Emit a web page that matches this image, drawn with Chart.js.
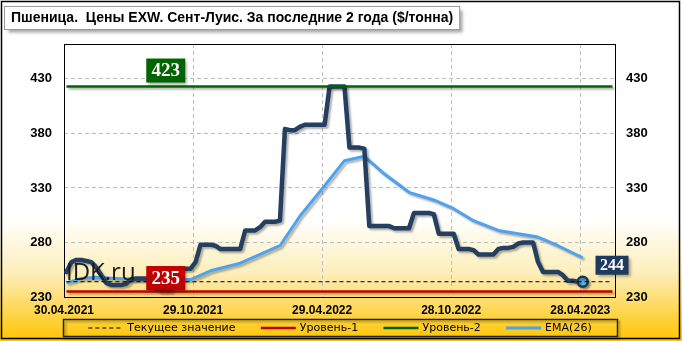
<!DOCTYPE html>
<html lang="ru">
<head>
    <meta charset="UTF-8">
    <title>Пшеница. Цены EXW. Сент-Луис</title>
    <script src="https://cdn.jsdelivr.net/npm/chart.js"></script>
    <style>
        html, body { margin: 0; padding: 0; background: #fff; }
        #wrap { width: 682px; height: 341px; position: relative; }
    </style>
</head>
<body>
<div id="wrap"><canvas id="chart" width="682" height="341"></canvas></div>
<script>
// --- данные (недельные значения, $/тонна) ---
const titleText = 'Пшеница.  Цены EXW. Сент-Луис. За последние 2 года ($/тонна)';
const xTickPos = [-0.5, 25.5, 51.5, 77.5, 103.5];
const xTickLabels = ['30.04.2021', '29.10.2021', '29.04.2022', '28.10.2022', '28.04.2023'];
const yTicks = [230, 280, 330, 380, 430];

const price = [
    253, 262, 264, 264, 263, 262, 257, 250, 243, 241,
    241, 241, 242, 246, 247, 247, 247, 245, 238, 236,
    236, 236, 248, 256, 256, 256, 262, 278, 278, 278,
    277, 274, 274, 274, 274, 274, 291, 291, 291, 294,
    299, 299, 299, 300, 384, 383, 383, 386, 388, 388,
    388, 388, 388, 423, 423, 423, 423, 367, 367, 367,
    366, 295, 295, 295, 295, 295, 293, 293, 293, 293,
    307, 307, 307, 307, 306, 288, 288, 288, 288, 274,
    274, 274, 273, 269, 269, 269, 269, 274, 275, 275,
    276, 279, 280, 280, 280, 262, 253, 253, 253, 253,
    250, 245, 245, 244, 244
];

const emaWeek = [0, 3, 6, 10, 16, 25, 29, 35, 43, 47, 52, 56, 60, 64, 69, 74, 78, 82, 87, 91, 95, 99, 104];
const emaVal  = [243, 247, 248, 247, 246, 246, 254, 261, 277, 304, 332, 355, 359, 343, 326, 319, 311, 300, 291, 288, 285, 277, 266];

const level1 = 235;
const level2 = 423;
const current = price[price.length - 1];

const legendNames = ['Текущее значение', 'Уровень-1', 'Уровень-2', 'EMA(26)'];

const X_MIN = -0.5, X_MAX = 110.5, Y_MIN = 230, Y_MAX = 462;

const hLine = v => [{ x: 0, y: v }, { x: 110, y: v }];

// фон, рамка и заголовок
const backdrop = {
    id: 'backdrop',
    beforeDraw(chart) {
        const ctx = chart.ctx, w = chart.width, h = chart.height;
        ctx.save();
        const g = ctx.createLinearGradient(0, 0, 0, h);
        g.addColorStop(0, '#ffffff');
        g.addColorStop(0.64, '#ffffff');
        g.addColorStop(0.8, '#fdeebb');
        g.addColorStop(1, '#ffc400');
        ctx.fillStyle = g;
        ctx.fillRect(0, 0, w, h);
        ctx.strokeStyle = '#000';
        ctx.lineWidth = 1.5;
        ctx.strokeRect(1.5, 1.5, w - 4, h - 4);

        // заголовок в рамке с тенью
        ctx.font = 'bold 14px "Liberation Sans", Arial, sans-serif';
        const tw = ctx.measureText(titleText).width;
        ctx.shadowColor = 'rgba(0,0,0,0.35)';
        ctx.shadowOffsetX = 3; ctx.shadowOffsetY = 3; ctx.shadowBlur = 3;
        ctx.fillStyle = '#fff';
        ctx.fillRect(4.5, 6.5, tw + 13, 23);
        ctx.shadowColor = 'transparent';
        ctx.strokeStyle = '#9a9a9a';
        ctx.lineWidth = 1;
        ctx.strokeRect(4.5, 6.5, tw + 13, 23);
        ctx.fillStyle = '#000';
        ctx.textBaseline = 'middle';
        ctx.fillText(titleText, 11, 18.5);
        ctx.restore();
    },
    beforeDatasetsDraw(chart) {
        const { ctx, chartArea: a } = chart;
        ctx.save();
        ctx.strokeStyle = '#000';
        ctx.lineWidth = 1;
        ctx.strokeRect(a.left + 0.5, a.top + 0.5, a.right - a.left, a.bottom - a.top);
        ctx.restore();
    }
};

// тени под линиями
const lineShadow = {
    id: 'lineShadow',
    beforeDatasetDraw(chart, args) {
        const ctx = chart.ctx;
        ctx.save();
        if (args.index >= 1) {
            ctx.shadowColor = 'rgba(0,0,0,0.3)';
            ctx.shadowOffsetX = 2; ctx.shadowOffsetY = 2; ctx.shadowBlur = 2;
        }
    },
    afterDatasetDraw(chart) {
        chart.ctx.restore();
    }
};

function tagBox(ctx, text, cx, cy, w, h, fill, font) {
    ctx.save();
    ctx.shadowColor = 'rgba(0,0,0,0.35)';
    ctx.shadowOffsetX = 2; ctx.shadowOffsetY = 2; ctx.shadowBlur = 3;
    ctx.fillStyle = fill;
    ctx.fillRect(cx - w / 2, cy - h / 2, w, h);
    ctx.restore();
    ctx.save();
    ctx.fillStyle = '#fff';
    ctx.font = font;
    ctx.textAlign = 'center';
    ctx.textBaseline = 'middle';
    ctx.fillText(text, cx, cy + 1);
    ctx.restore();
}

// подписи уровней, водяной знак, легенда
const overlay = {
    id: 'overlay',
    afterDatasetsDraw(chart) {
        const { ctx, chartArea: a } = chart;
        const xs = chart.scales.x, ys = chart.scales.y;

        ctx.save();
        ctx.font = '24px "Open Sans", sans-serif';
        ctx.fillStyle = '#1a1a1a';
        ctx.textBaseline = 'alphabetic';
        ctx.fillText('IDK.ru', a.left + 2, a.bottom - 17);
        ctx.restore();

        const lx = xs.getPixelForValue(20);
        const serif = 'bold 19px "Liberation Serif", "Times New Roman", serif';
        tagBox(ctx, String(level2), lx, ys.getPixelForValue(level2) - 16, 39, 24, '#006400', serif);
        tagBox(ctx, String(level1), lx, ys.getPixelForValue(level1) - 13.5, 39, 24, '#c00000', serif);
        tagBox(ctx, String(current), a.right - 3, ys.getPixelForValue(current) - 16.5, 33, 19, '#1f3a5f',
            'bold 16px "Liberation Serif", "Times New Roman", serif');
    },
    afterDraw(chart) {
        const { ctx, chartArea: a } = chart;
        const ds = chart.data.datasets;
        const items = [ds[0], ds[1], ds[2], ds[4]];
        const top = 319, h = 17, left = a.left - 1, right = a.right + 2;
        ctx.save();
        ctx.font = '11px "DejaVu Sans", Verdana, sans-serif';
        const sample = 35, gapText = 4;
        const widths = items.map(d => sample + gapText + ctx.measureText(d.label).width);
        const total = widths.reduce((s, v) => s + v, 0);
        const gap = (right - left - total) / (items.length + 1);

        ctx.strokeStyle = '#222';
        ctx.lineWidth = 1.5;
        ctx.shadowColor = 'rgba(0,0,0,0.3)';
        ctx.shadowOffsetX = 2; ctx.shadowOffsetY = 2; ctx.shadowBlur = 2;
        ctx.strokeRect(left + 0.5, top + 0.5, right - left, h);
        ctx.shadowColor = 'transparent';

        let x = left + gap;
        const cy = top + h / 2 + 0.5;
        items.forEach((d, i) => {
            ctx.save();
            ctx.strokeStyle = d.borderColor;
            ctx.lineWidth = Math.min(d.borderWidth, 3);
            ctx.setLineDash(d.borderDash || []);
            ctx.beginPath();
            ctx.moveTo(x, cy);
            ctx.lineTo(x + sample, cy);
            ctx.stroke();
            ctx.restore();
            ctx.fillStyle = '#000';
            ctx.textBaseline = 'middle';
            ctx.fillText(d.label, x + sample + gapText, cy + 0.5);
            x += widths[i] + gap;
        });
        ctx.restore();
    }
};

const ctx = document.getElementById('chart').getContext('2d');
new Chart(ctx, {
    type: 'line',
    data: {
        datasets: [
            {
                label: legendNames[0],
                data: hLine(current),
                borderColor: '#000',
                borderWidth: 1,
                borderDash: [4, 3],
                pointRadius: 0
            },
            {
                label: legendNames[1],
                data: hLine(level1),
                borderColor: '#c00000',
                borderWidth: 2.5,
                pointRadius: 0
            },
            {
                label: legendNames[2],
                data: hLine(level2),
                borderColor: '#006400',
                borderWidth: 2.5,
                pointRadius: 0
            },
            {
                label: 'Цена',
                data: price.map((v, i) => ({ x: i, y: v })),
                borderColor: '#243f60',
                borderWidth: 4.5,
                borderJoinStyle: 'round',
                borderCapStyle: 'round',
                pointRadius: c => (c.dataIndex === price.length - 1 ? 5 : 0),
                pointBackgroundColor: '#5ab4d6',
                pointBorderColor: '#17365d',
                pointBorderWidth: 2.5
            },
            {
                label: legendNames[3],
                data: emaWeek.map((w, i) => ({ x: w, y: emaVal[i] })),
                borderColor: '#4da3f0',
                borderWidth: 3,
                borderJoinStyle: 'round',
                pointRadius: 0
            }
        ]
    },
    options: {
        responsive: false,
        animation: false,
        events: [],
        layout: { padding: { top: 44, left: 0, right: 0, bottom: 0 } },
        plugins: {
            legend: { display: false },
            title: { display: false },
            tooltip: { enabled: false }
        },
        scales: {
            x: {
                type: 'linear',
                min: X_MIN,
                max: X_MAX,
                afterBuildTicks: s => { s.ticks = xTickPos.map(v => ({ value: v })); },
                afterFit: s => { s.height = 44; },
                grid: { color: '#bfbfbf', drawTicks: false },
                border: { display: false, dash: [4, 3] },
                ticks: {
                    autoSkip: false,
                    maxRotation: 0,
                    padding: 6,
                    color: '#000',
                    font: { family: '"Liberation Sans", Arial, sans-serif', size: 12, weight: 'bold' },
                    callback: (v, i) => xTickLabels[i]
                }
            },
            y: {
                position: 'left',
                min: Y_MIN,
                max: Y_MAX,
                afterBuildTicks: s => { s.ticks = yTicks.map(v => ({ value: v })); },
                afterFit: s => { s.width = 64; },
                grid: { color: '#bfbfbf', drawTicks: false },
                border: { display: false, dash: [4, 3] },
                ticks: {
                    padding: 12,
                    color: '#000',
                    font: { family: '"Liberation Sans", Arial, sans-serif', size: 13, weight: 'bold' }
                }
            },
            y2: {
                position: 'right',
                min: Y_MIN,
                max: Y_MAX,
                afterBuildTicks: s => { s.ticks = yTicks.map(v => ({ value: v })); },
                afterFit: s => { s.width = 67; },
                grid: { display: false, drawTicks: false },
                border: { display: false },
                ticks: {
                    padding: 11,
                    color: '#000',
                    font: { family: '"Liberation Sans", Arial, sans-serif', size: 13, weight: 'bold' }
                }
            }
        }
    },
    plugins: [backdrop, lineShadow, overlay]
});
</script>
</body>
</html>
